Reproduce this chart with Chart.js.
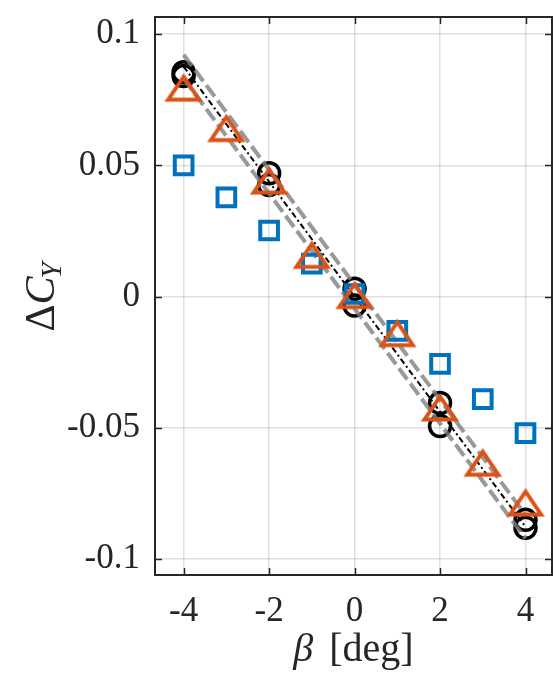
<!DOCTYPE html>
<html>
<head>
<meta charset="utf-8">
<script src="https://cdn.jsdelivr.net/npm/chart.js@4.4.0/dist/chart.umd.min.js"></script>
<style>
html, body { margin: 0; padding: 0; background: #fff; }
#wrap { width: 554px; height: 677px; }
</style>
</head>
<body>
<div id="wrap"><canvas id="grafico"></canvas></div>
<script>
// Ensayos repetidos (circulos negros)
const betaRep = [-4, -4, -2, -2, 0, 0, 2, 2, 4, 4];
const dcyRep = [0.0855, 0.084, 0.047, 0.0425, 0.003, -0.0034, -0.0405, -0.0493, -0.085, -0.088];

// Barrido fino (cuadrados azules y triangulos naranjas)
const betaFino = [-4, -3, -2, -1, 0, 1, 2, 3, 4];
const dcyCuadrados = [0.050, 0.0378, 0.0252, 0.0126, 0.001, -0.013, -0.0256, -0.039, -0.052];
const dcyTriangulos = [0.0794, 0.064, 0.044, 0.0157, 0.0004, -0.0141, -0.0424, -0.0634, -0.0786];

// Ajuste lineal y bandas
const betaAjuste = [-4, 4];
const dcyAjuste = [0.0876, -0.0876];
const dcyAjusteSup = [0.0921, -0.0831];
const dcyAjusteInf = [0.0831, -0.0921];

// Ejes
const xTicks = [-4, -2, 0, 2, 4];
const xTickLabels = ['-4', '-2', '0', '2', '4'];
const yTicks = [-0.1, -0.05, 0, 0.05, 0.1];
const yTickLabels = ['-0.1', '-0.05', '0', '0.05', '0.1'];

const EJE = '#262626';
const NARANJA = '#D95319';
const AZUL = '#0072BD';
const FUENTE = '"Liberation Serif", "DejaVu Serif", serif';

function puntos(xs, ys) {
    return xs.map((x, i) => ({ x: x, y: ys[i] }));
}

// Triangulo estilo MATLAB (mas ancho que alto)
function crearTriangulo() {
    const c = document.createElement('canvas');
    c.width = 40; c.height = 32;
    const g = c.getContext('2d');
    g.strokeStyle = NARANJA;
    g.lineWidth = 4;
    g.lineJoin = 'miter';
    g.beginPath();
    g.moveTo(20, 4.5);
    g.lineTo(4.5, 27.5);
    g.lineTo(35.5, 27.5);
    g.closePath();
    g.stroke();
    return c;
}

// Caja, marcas interiores y titulos de ejes
const ejesMatlab = {
    id: 'ejesMatlab',
    afterDraw(chart) {
        const ctx = chart.ctx;
        const a = chart.chartArea;
        const sx = chart.scales.x, sy = chart.scales.y;
        const tl = 7;
        ctx.save();
        ctx.strokeStyle = EJE;
        ctx.lineWidth = 1.5;
        ctx.beginPath();
        xTicks.forEach(v => {
            const px = Math.round(sx.getPixelForValue(v)) + 0.5;
            ctx.moveTo(px, a.bottom); ctx.lineTo(px, a.bottom - tl);
            ctx.moveTo(px, a.top); ctx.lineTo(px, a.top + tl);
        });
        yTicks.forEach(v => {
            const py = Math.round(sy.getPixelForValue(v)) + 0.5;
            ctx.moveTo(a.left, py); ctx.lineTo(a.left + tl, py);
            ctx.moveTo(a.right, py); ctx.lineTo(a.right - tl, py);
        });
        ctx.stroke();
        ctx.lineWidth = 2;
        ctx.strokeRect(a.left, a.top, a.right - a.left, a.bottom - a.top);

        // titulo eje x: beta [deg]
        ctx.fillStyle = EJE;
        ctx.textBaseline = 'alphabetic';
        const cx = (a.left + a.right) / 2;
        const base = 661;
        ctx.font = 'italic 40px ' + FUENTE;
        const wb = ctx.measureText('β').width;
        ctx.font = '40px ' + FUENTE;
        const wr = ctx.measureText(' [deg]').width;
        let x0 = cx - (wb + wr + 6) / 2;
        ctx.font = 'italic 40px ' + FUENTE;
        ctx.textAlign = 'left';
        ctx.fillText('β', x0, base);
        ctx.font = '40px ' + FUENTE;
        ctx.fillText(' [deg]', x0 + wb + 6, base);

        // titulo eje y: Delta C_Y
        const cy = (a.top + a.bottom) / 2;
        ctx.translate(54, cy);
        ctx.rotate(-Math.PI / 2);
        ctx.font = '42px ' + FUENTE;
        const wd = ctx.measureText('Δ').width;
        ctx.font = 'italic 42px ' + FUENTE;
        const wc = ctx.measureText('C').width;
        ctx.font = 'italic 29px ' + FUENTE;
        const wy = ctx.measureText('Y').width;
        x0 = -(wd + wc + wy) / 2;
        ctx.font = '42px ' + FUENTE;
        ctx.fillText('Δ', x0, 0);
        ctx.font = 'italic 42px ' + FUENTE;
        ctx.fillText('C', x0 + wd, 0);
        ctx.font = 'italic 29px ' + FUENTE;
        ctx.fillText('Y', x0 + wd + wc - 2, 7);
        ctx.restore();
    }
};

const triangulo = crearTriangulo();

new Chart(document.getElementById('grafico'), {
    type: 'scatter',
    data: {
        datasets: [
            {
                label: 'triangulos',
                data: puntos(betaFino, dcyTriangulos),
                pointStyle: triangulo,
                pointRadius: 16,
                showLine: false
            },
            {
                label: 'cuadrados',
                data: puntos(betaFino, dcyCuadrados),
                pointStyle: 'rect',
                pointRadius: 12.5,
                borderColor: AZUL,
                backgroundColor: 'rgba(0,0,0,0)',
                pointBorderWidth: 4,
                showLine: false
            },
            {
                label: 'ajuste',
                data: puntos(betaAjuste, dcyAjuste),
                showLine: true,
                borderColor: '#000',
                borderWidth: 2,
                borderDash: [6, 3, 2, 3],
                pointRadius: 0
            },
            {
                label: 'sup',
                data: puntos(betaAjuste, dcyAjusteSup),
                showLine: true,
                borderColor: 'rgba(128,128,128,0.8)',
                borderWidth: 4,
                borderDash: [14, 5],
                pointRadius: 0
            },
            {
                label: 'inf',
                data: puntos(betaAjuste, dcyAjusteInf),
                showLine: true,
                borderColor: 'rgba(128,128,128,0.8)',
                borderWidth: 4,
                borderDash: [14, 5],
                pointRadius: 0
            },
            {
                label: 'repetidos',
                data: puntos(betaRep, dcyRep),
                pointStyle: 'circle',
                pointRadius: 10.5,
                borderColor: '#000',
                backgroundColor: 'rgba(0,0,0,0)',
                pointBorderWidth: 3.5,
                showLine: false
            }
        ]
    },
    options: {
        responsive: true,
        maintainAspectRatio: false,
        animation: false,
        layout: { autoPadding: false, padding: { top: 17, right: 2, left: 0, bottom: 0 } },
        plugins: {
            legend: { display: false },
            tooltip: { enabled: false }
        },
        scales: {
            x: {
                type: 'linear',
                min: -4.67,
                max: 4.62,
                afterBuildTicks: s => { s.ticks = xTicks.map(v => ({ value: v })); },
                afterFit: s => { s.height = 102; s.paddingLeft = 0; s.paddingRight = 0; },
                grid: { color: 'rgba(38,38,38,0.15)', lineWidth: 1.5, drawTicks: false },
                border: { display: false },
                ticks: {
                    padding: 16,
                    color: EJE,
                    font: { family: FUENTE, size: 35 },
                    maxRotation: 0,
                    callback: (v, i) => xTickLabels[i]
                }
            },
            y: {
                type: 'linear',
                min: -0.106,
                max: 0.1065,
                afterBuildTicks: s => { s.ticks = yTicks.map(v => ({ value: v })); },
                afterFit: s => { s.width = 155; s.paddingTop = 0; s.paddingBottom = 0; },
                grid: { color: 'rgba(38,38,38,0.15)', lineWidth: 1.5, drawTicks: false },
                border: { display: false },
                ticks: {
                    padding: 15,
                    color: EJE,
                    font: { family: FUENTE, size: 35 },
                    callback: (v, i) => yTickLabels[i]
                }
            }
        }
    },
    plugins: [ejesMatlab]
});
</script>
</body>
</html>
